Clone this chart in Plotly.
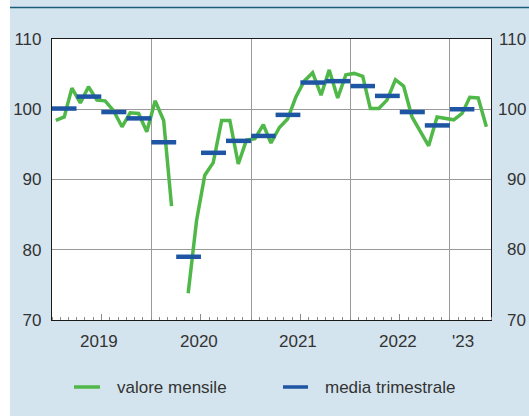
import plotly.graph_objects as go
import pandas as pd

# ---- data ----
monthly_values = [
    98.4, 98.9, 103.0, 100.9, 103.2, 101.3, 101.2, 99.8, 97.5, 99.5, 99.4, 96.8,   # 2019
    101.2, 98.4, 86.2, None, 73.8, 84.2, 90.6, 92.4, 98.4, 98.4, 92.2, 95.6,      # 2020
    95.8, 97.8, 95.2, 97.4, 98.6, 101.8, 104.0, 105.2, 102.0, 105.6, 101.6, 104.9, # 2021
    105.1, 104.7, 100.1, 100.1, 101.3, 104.2, 103.3, 98.9, 96.8, 94.8, 98.9, 98.7, # 2022
    98.5, 99.4, 101.7, 101.6, 97.5,                                               # 2023
]
quarterly_values = [
    100.1, 101.8, 99.6, 98.7,
    95.3, 79.0, 93.8, 95.5,
    96.2, 99.2, 103.8, 104.0,
    103.3, 101.9, 99.6, 97.7,
    100.0,
]
year_labels = ["2019", "2020", "2021", "2022", "'23"]
year_label_dates = ["2019-07-01", "2020-07-01", "2021-07-01", "2022-07-01", "2023-02-25"]
y_ticks = [70, 80, 90, 100, 110]
series_names = ["valore mensile", "media trimestrale"]

GREEN = "#50b848"
BLUE = "#1f56a3"
BG = "#d3e4ee"
TXT = "#333333"
FONT = "Liberation Sans, Arial, sans-serif"

months = pd.date_range("2019-01-01", periods=len(monthly_values), freq="MS") + pd.Timedelta(days=14)
q_start = pd.date_range("2019-01-01", periods=len(quarterly_values), freq="QS")
q_end = q_start + pd.DateOffset(months=3)

qx, qy = [], []
for s, e, v in zip(q_start, q_end, quarterly_values):
    qx += [s, e, None]
    qy += [v, v, None]

fig = go.Figure()
fig.add_trace(go.Scatter(x=months, y=monthly_values, mode="lines", name=series_names[0],
                         line=dict(color=GREEN, width=3.5), connectgaps=False))
fig.add_trace(go.Scatter(x=qx, y=qy, mode="lines", name=series_names[1],
                         line=dict(color=BLUE, width=4.5)))

L, R, T, B = 52, 38, 39, 96
W, H = 529, 416
pw, ph = W - L - R, H - T - B

def px_x(p):
    return (p - L) / pw

def px_y(p):
    return (H - B - p) / ph

fig.update_layout(
    width=W, height=H,
    margin=dict(l=L, r=R, t=T, b=B, autoexpand=False),
    paper_bgcolor=BG, plot_bgcolor="white",
    showlegend=False,
    font=dict(family=FONT, size=17, color=TXT),
    xaxis=dict(
        type="date",
        range=["2019-01-01", "2023-06-01"],
        tickmode="array",
        tickvals=["2019-01-01", "2020-01-01", "2021-01-01", "2022-01-01", "2023-01-01"],
        showticklabels=False, ticks="",
        showgrid=True, gridcolor="#9a9a9a", gridwidth=1,
        showline=True, linecolor="#1a1a1a", linewidth=1.2, mirror=True,
        minor=dict(dtick="M1", tick0="2019-01-01", ticks="inside", ticklen=3,
                   tickcolor="#8a8a8a", showgrid=False),
        zeroline=False,
    ),
    xaxis2=dict(
        type="date", overlaying="x", matches="x", anchor="y", side="bottom",
        tickmode="array",
        tickvals=["2019-07-01", "2020-07-01", "2021-07-01", "2022-07-01"],
        ticks="inside", ticklen=6, tickcolor="#8a8a8a",
        showticklabels=False, showgrid=False, showline=False, zeroline=False,
    ),
    yaxis=dict(
        range=[70, 110], tickmode="array", tickvals=y_ticks,
        ticktext=[str(v) for v in y_ticks],
        showgrid=True, gridcolor="#9a9a9a", gridwidth=1,
        showline=True, linecolor="#1a1a1a", linewidth=1.2, mirror=True,
        ticks="", ticklabelstandoff=6, zeroline=False,
        tickfont=dict(family=FONT, size=17, color=TXT),
    ),
)

# dummy trace so xaxis2 is drawn
fig.add_trace(go.Scatter(x=[months[0]], y=[None], xaxis="x2", yaxis="y",
                         showlegend=False, hoverinfo="skip"))

shapes = [
    # white strip at left edge
    dict(type="rect", xref="paper", yref="paper", x0=px_x(-5), x1=px_x(10),
         y0=px_y(H + 5), y1=px_y(-5), fillcolor="white", line=dict(width=0), layer="below"),
    # top rule
    dict(type="line", xref="paper", yref="paper", x0=px_x(10), x1=px_x(W + 2),
         y0=px_y(7.5), y1=px_y(7.5), line=dict(color="#1b5c7c", width=1.5)),
    # legend samples
    dict(type="line", xref="paper", yref="paper", x0=px_x(74), x1=px_x(100),
         y0=px_y(387), y1=px_y(387), line=dict(color=GREEN, width=3.5)),
    dict(type="line", xref="paper", yref="paper", x0=px_x(283), x1=px_x(308),
         y0=px_y(387), y1=px_y(387), line=dict(color=BLUE, width=3.5)),
]

annotations = []
# right-side y labels (right aligned)
for v in y_ticks:
    annotations.append(dict(x=px_x(528), y=v, xref="paper", yref="y", text=str(v),
                            showarrow=False, xanchor="right", yanchor="middle",
                            font=dict(family=FONT, size=17, color=TXT)))
# year labels
for lab, d in zip(year_labels, year_label_dates):
    annotations.append(dict(x=d, y=px_y(341), xref="x", yref="paper", text=lab,
                            showarrow=False, xanchor="center", yanchor="middle", xshift=-2,
                            font=dict(family=FONT, size=17, color=TXT)))
# legend texts
annotations.append(dict(x=px_x(115), y=px_y(387), xref="paper", yref="paper", text=series_names[0],
                        showarrow=False, xanchor="left", yanchor="middle",
                        font=dict(family=FONT, size=17, color=TXT)))
annotations.append(dict(x=px_x(323), y=px_y(387), xref="paper", yref="paper", text=series_names[1],
                        showarrow=False, xanchor="left", yanchor="middle",
                        font=dict(family=FONT, size=17, color=TXT)))

fig.update_layout(shapes=shapes, annotations=annotations)
fig.write_html("out.html", config={"displayModeBar": False},
               post_script="document.body.style.margin='0';document.body.style.padding='0';")
